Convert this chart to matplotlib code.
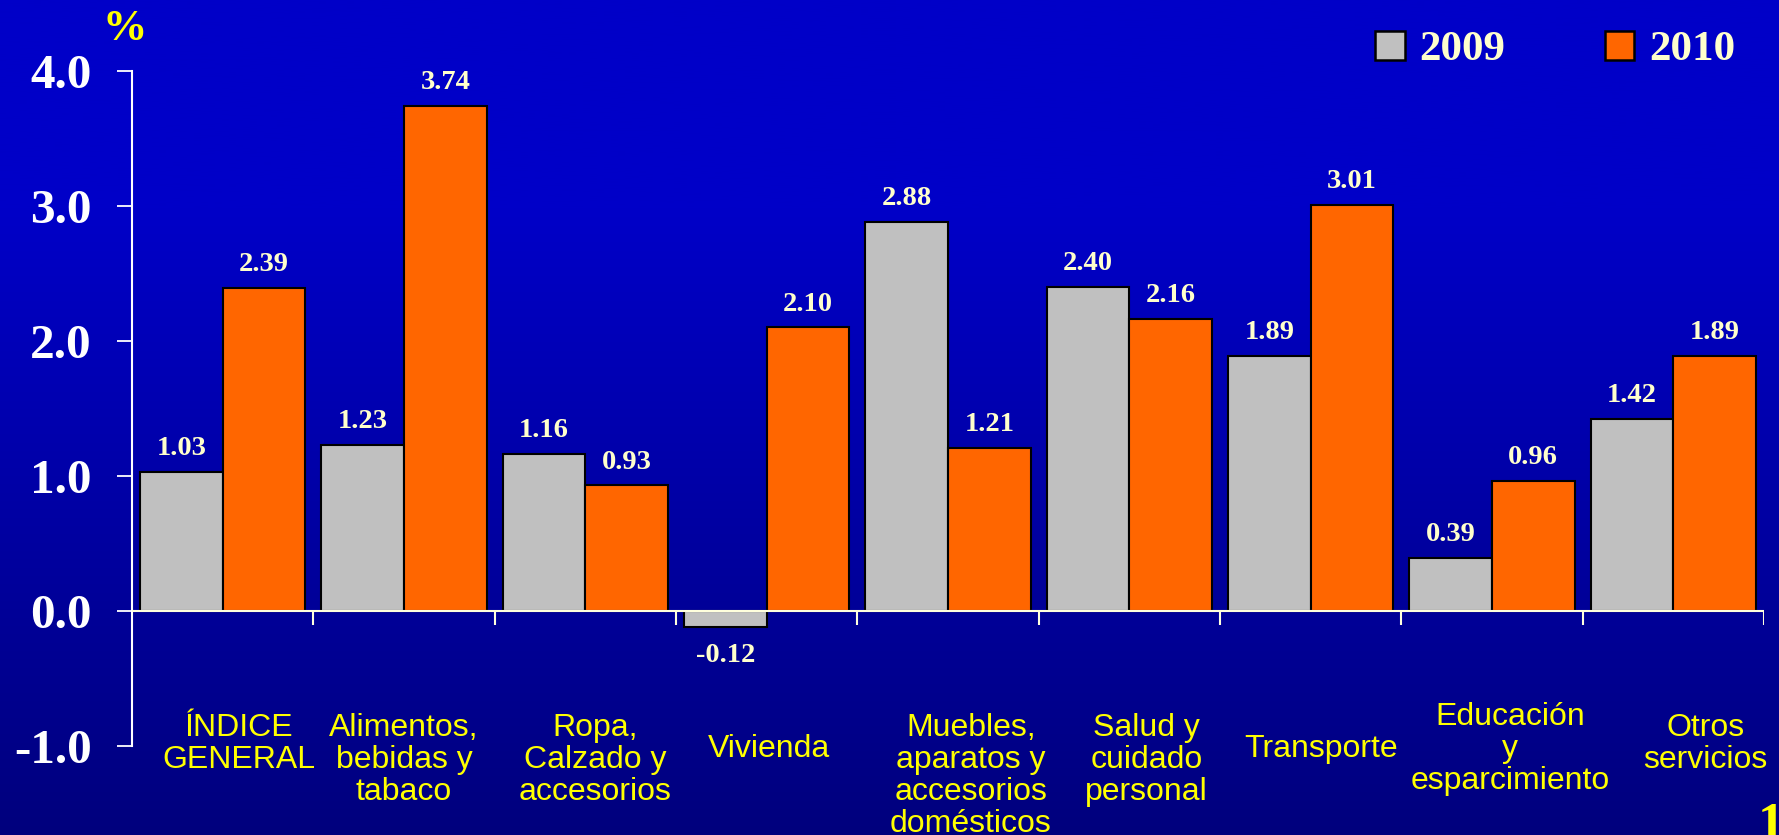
import matplotlib
matplotlib.use("Agg")
import matplotlib.pyplot as plt
import matplotlib.transforms as mtransforms
import numpy as np
from matplotlib.patches import Rectangle

# -------------------- data --------------------
categories = [
    "ÍNDICE\nGENERAL",
    "Alimentos,\nbebidas y\ntabaco",
    "Ropa,\nCalzado y\naccesorios",
    "Vivienda",
    "Muebles,\naparatos y\naccesorios\ndomésticos",
    "Salud y\ncuidado\npersonal",
    "Transporte",
    "Educación\ny\nesparcimiento",
    "Otros\nservicios",
]
years = ["2009", "2010"]
values_2009 = [1.03, 1.23, 1.16, -0.12, 2.88, 2.40, 1.89, 0.39, 1.42]
values_2010 = [2.39, 3.74, 0.93, 2.10, 1.21, 2.16, 3.01, 0.96, 1.89]
y_ticks = [-1.0, 0.0, 1.0, 2.0, 3.0, 4.0]

# label placement tweaks (pixel nudges / vertical anchoring of category labels)
label_dx = [16, 0, 10, 2, 23, 17, 10, 18, 32]
label_anchor = ["top", "top", "top", "center", "top", "top", "center", "center", "top"]

# -------------------- style --------------------
W, H, DPI = 1779, 835, 100
C_2009 = "#C0C0C0"
C_2010 = "#FF6600"
C_VALUE = "#FFFFCC"
C_CAT = "#FFFF00"
SERIF = "Liberation Serif"
SANS = "Liberation Sans"
LINE_STEP = 32  # px between category label lines

fig = plt.figure(figsize=(W / DPI, H / DPI), dpi=DPI)

# background: blue vertical gradient
bg = fig.add_axes([0, 0, 1, 1], zorder=0)
t = np.linspace(0, 1, 400)
blue = np.where(t < 0.25, 200, 200 - (t - 0.25) / 0.75 * 75) / 255.0
grad = np.zeros((len(t), 1, 3))
grad[:, 0, 2] = blue
bg.imshow(grad, aspect="auto", extent=[0, 1, 0, 1], origin="upper")
bg.axis("off")

ax_left, ax_right = 132, 1764
ax_top, ax_bottom = 71, 746
ax = fig.add_axes([ax_left / W, 1 - ax_bottom / H,
                   (ax_right - ax_left) / W, (ax_bottom - ax_top) / H], zorder=2)
ax.set_facecolor("none")

x = np.arange(len(categories))
w = 0.455
ax.bar(x - w / 2, values_2009, w, color=C_2009, edgecolor="black", linewidth=1.5, zorder=2)
ax.bar(x + w / 2, values_2010, w, color=C_2010, edgecolor="black", linewidth=1.5, zorder=2)

ax.set_xlim(-0.5, len(categories) - 0.5)
ax.set_ylim(y_ticks[0], y_ticks[-1])

# value labels
for xs, vals in ((x - w / 2, values_2009), (x + w / 2, values_2010)):
    for xi, v in zip(xs, vals):
        if v >= 0:
            ax.annotate(f"{v:.2f}", (xi, v), xytext=(0, 12.2), textcoords="offset points",
                        ha="center", va="baseline", color=C_VALUE, fontsize=20.5,
                        fontweight="bold", family=SERIF, zorder=4)
        else:
            ax.annotate(f"{v:.2f}", (xi, v), xytext=(0, -11.5), textcoords="offset points",
                        ha="center", va="top", color=C_VALUE, fontsize=20.5,
                        fontweight="bold", family=SERIF, zorder=4)

# axes styling
for side in ("top", "right", "bottom"):
    ax.spines[side].set_visible(False)
ax.spines["left"].set_color("white")
ax.spines["left"].set_linewidth(1.5)
ax.set_yticks(y_ticks, labels=[f"{v:.1f}" for v in y_ticks])
ax.tick_params(axis="y", direction="out", length=11, width=1.3, colors="white", pad=18)
for lab in ax.get_yticklabels():
    lab.set_fontfamily(SERIF)
    lab.set_fontweight("bold")
    lab.set_fontsize(35.5)
ax.set_xticks([])

# zero line + group separator ticks
ax.axhline(0, color="#FFFFDD", linewidth=1.5, zorder=3)
zero_frac = (0 - y_ticks[0]) / (y_ticks[-1] - y_ticks[0])
tick_len = 14 / (ax_bottom - ax_top)
ax.vlines(np.arange(1, len(categories) + 1) - 0.5, zero_frac - tick_len, zero_frac,
          transform=ax.get_xaxis_transform(), color="#FFFFDD", linewidth=1.5, zorder=3)

# category labels
for xi, lab, dx, anchor in zip(x, categories, label_dx, label_anchor):
    n_lines = lab.count("\n") + 1
    if anchor == "top":
        # first line baseline fixed; matplotlib "baseline" anchors the last line
        y_px = 736 + (n_lines - 1) * LINE_STEP
        va = "baseline"
    else:
        y_px = 749
        va = "center"
    tr = mtransforms.offset_copy(ax.get_xaxis_transform(), fig=fig, x=dx, y=0, units="dots")
    yf = (ax_bottom - y_px) / (ax_bottom - ax_top)
    ax.text(xi, yf, lab, transform=tr, ha="center", va=va, multialignment="center",
            color=C_CAT, fontsize=23, family=SANS, linespacing=1.08, clip_on=False)

# "%" unit marker
fig.text(125 / W, 1 - 29 / H, "%", ha="center", va="center", color="#FFFF00",
         fontsize=32, fontweight="bold", family=SERIF)

# legend
handles = [Rectangle((0, 0), 1, 1, facecolor=C_2009, edgecolor="black", linewidth=1.8),
           Rectangle((0, 0), 1, 1, facecolor=C_2010, edgecolor="black", linewidth=1.8)]
fig.legend(handles, years, loc="center right", bbox_to_anchor=(1735 / W, 1 - 50 / H),
           ncol=2, frameon=False, prop=dict(family=SERIF, weight="bold", size=31),
           labelcolor=C_VALUE, handlelength=0.68, handleheight=0.68, handletextpad=0.35,
           columnspacing=2.3, borderpad=0, borderaxespad=0)

# page number (cut off at the edge, as on the slide)
fig.text(1758 / W, 1 - 802 / H, "1", ha="left", va="top", color="#FFFF00",
         fontsize=38, fontweight="bold", family=SERIF)

fig.savefig("out.png", dpi=DPI)
